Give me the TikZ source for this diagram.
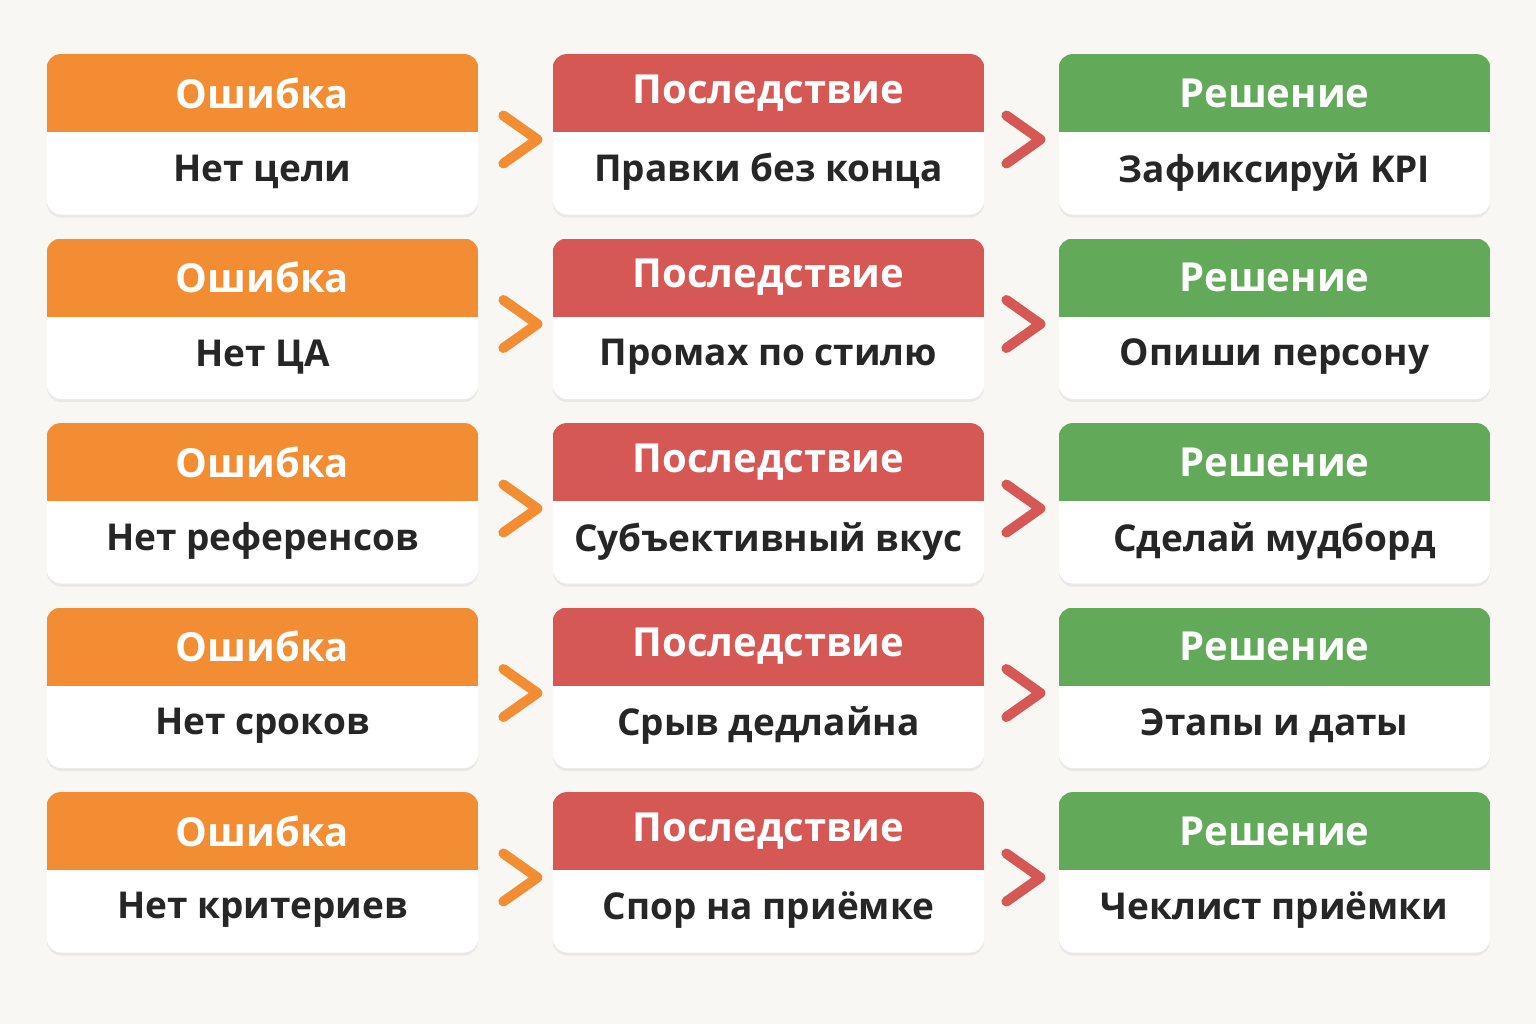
\documentclass[tikz,border=0pt]{standalone}
\usepackage{fontspec}
\setmainfont{Open Sans}
\usetikzlibrary{shadows,calc}
\definecolor{bg}{HTML}{F8F7F3}
\definecolor{errc}{HTML}{F28D33}
\definecolor{conc}{HTML}{D65855}
\definecolor{solc}{HTML}{62A95A}

\begin{document}
\begin{tikzpicture}[x=0.5pt, y=-0.5pt,
  card/.style = {rectangle, rounded corners=7pt, fill=white, minimum width=215.5pt, minimum height=80pt, inner sep=0pt,
    drop shadow={opacity=0.12, shadow xshift=0pt, shadow yshift=-1.5pt}},
  head/.style = {font=\bfseries\fontsize{20}{24}\selectfont, text=white},
  body/.style = {font=\bfseries\fontsize{18.5}{22}\selectfont, text=black!85},
  chev/.style = {line width=5pt, line cap=round, line join=round}]
  \fill[bg] (0,0) rectangle (1536,1024);

  \foreach \i/\a/\b/\c in {1/Нет цели/Правки без конца/Зафиксируй KPI,
                            2/Нет ЦА/Промах по стилю/Опиши персону,
                            3/Нет референсов/Субъективный вкус/Сделай мудборд,
                            4/Нет сроков/Срыв дедлайна/Этапы и даты,
                            5/Нет критериев/Спор на приёмке/Чеклист приёмки}{
    \pgfmathsetmacro\y{134.5+184.5*(\i-1)}
    \node[card] (e\i) at (262.5,\y) {};
    \node[card] (c\i) at (768.5,\y) {};
    \node[card] (s\i) at (1274.5,\y) {};
    % header bands
    \foreach \n/\col/\t in {e/errc/Ошибка, c/conc/Последствие, s/solc/Решение}{
      \begin{scope}
        \clip[rounded corners=7pt] (\n\i.south west) rectangle (\n\i.north east);
        \fill[\col] (\n\i.north west) rectangle ([yshift=-39pt]\n\i.north east);
      \end{scope}
      \node[head] (\n h\i) at ([yshift=-19.5pt]\n\i.north) {\t};
    }
    \node[body] (eb\i) at ([yshift=-59pt]e\i.north) {\a};
    \node[body] (cb\i) at ([yshift=-59pt]c\i.north) {\b};
    \node[body] (sb\i) at ([yshift=-59pt]s\i.north) {\c};
    % chevrons
    \draw[chev, errc] ([xshift=12.5pt, yshift=9.5pt]e\i.east) -- ([xshift=29.5pt, yshift=-2.5pt]e\i.east) -- ([xshift=12.5pt, yshift=-14.5pt]e\i.east);
    \draw[chev, conc] ([xshift=11pt, yshift=9.5pt]c\i.east) -- ([xshift=28pt, yshift=-2.5pt]c\i.east) -- ([xshift=11pt, yshift=-14.5pt]c\i.east);
  }
\end{tikzpicture}
\end{document}
